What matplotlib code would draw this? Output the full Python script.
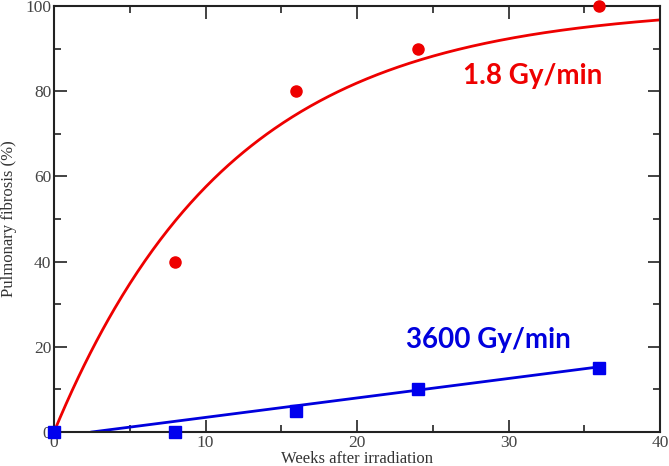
import numpy as np
import matplotlib
matplotlib.use("Agg")
import matplotlib.pyplot as plt
from matplotlib.ticker import MultipleLocator

# Data
weeks_low = [0, 8, 16, 24, 36]
fibrosis_low = [0, 40, 80, 90, 100]          # 1.8 Gy/min
weeks_high = [0, 8, 16, 24, 36]
fibrosis_high = [0, 0, 5, 10, 15]            # 3600 Gy/min

# Fit line for 3600 Gy/min (read endpoints)
high_fit_x = [2.5, 36]
high_fit_y = [0, 15.3]

# Exponential saturation fit for 1.8 Gy/min: y = 100 (1 - exp(-t/tau))
t_low = np.array(weeks_low, float)
y_low = np.array(fibrosis_low, float)
taus = np.linspace(5, 20, 3001)
sse = [np.sum((y_low - 100 * (1 - np.exp(-t_low / tau))) ** 2) for tau in taus]
tau = taus[int(np.argmin(sse))]
tc = np.linspace(0, 40, 400)
yc = 100 * (1 - np.exp(-tc / tau))

fig = plt.figure(figsize=(6.69, 4.66), dpi=100)
ax = fig.add_axes([54 / 669, 1 - 432 / 466, (660 - 54) / 669, (432 - 6) / 466])

ax.plot(tc, yc, color="#ee0000", lw=2, zorder=2)
ax.plot(high_fit_x, high_fit_y, color="#0000dd", lw=2, zorder=2)
ax.plot(weeks_low, fibrosis_low, "o", color="#ee0000", ms=8, mec="#ee0000",
        clip_on=False, zorder=3)
ax.plot(weeks_high, fibrosis_high, "s", color="#0000ee", ms=8.5, mec="#0000ee",
        clip_on=False, zorder=4)

ax.set_xlim(0, 40)
ax.set_ylim(0, 100)
ax.xaxis.set_major_locator(MultipleLocator(10))
ax.xaxis.set_minor_locator(MultipleLocator(5))
ax.yaxis.set_major_locator(MultipleLocator(20))
ax.yaxis.set_minor_locator(MultipleLocator(10))
ax.tick_params(which="both", direction="in", top=True, right=True, width=1.2,
               colors="#222222")
ax.tick_params(which="major", length=9)
ax.tick_params(which="minor", length=5)
ax.tick_params(labelsize=12.5, pad=2)
for lbl in ax.get_xticklabels() + ax.get_yticklabels():
    lbl.set_family("Liberation Serif")
    lbl.set_color("#444444")
for s in ax.spines.values():
    s.set_linewidth(1.5)
    s.set_color("#222222")

ax.set_xlabel("Weeks after irradiation", family="Liberation Serif", fontsize=12,
              color="#333333", labelpad=0)
ax.set_ylabel("Pulmonary fibrosis (%)", family="Liberation Serif", fontsize=12,
              color="#333333", labelpad=6)

ax.text(31.6, 83.5, "1.8 Gy/min", color="#ee0000", fontsize=20, fontweight="bold",
        family="Lato", ha="center", va="center")
ax.text(28.7, 21.6, "3600 Gy/min", color="#0000dd", fontsize=20, fontweight="bold",
        family="Lato", ha="center", va="center")

fig.savefig("out.png", dpi=100)
